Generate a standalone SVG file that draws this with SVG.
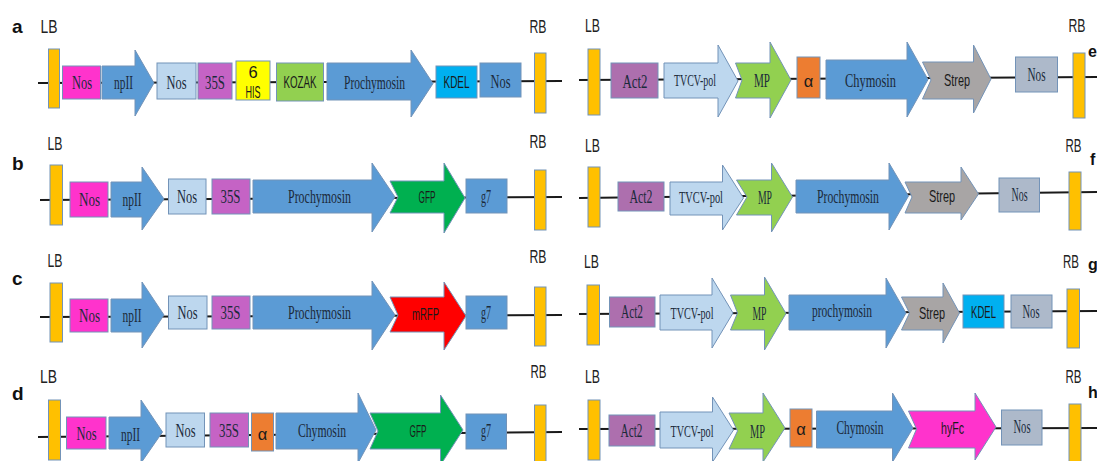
<svg xmlns="http://www.w3.org/2000/svg" width="1097" height="461" viewBox="0 0 1097 461">
<style>
.ln{stroke:#1a1a1a;stroke-width:2;fill:none}
.bd{fill:#ffc000;stroke:#7393b8;stroke-width:1}
.sh{stroke:#7393b8;stroke-width:1}
.t{font-family:"Liberation Serif","Times New Roman",serif;font-size:19.5px;text-anchor:middle;fill:#1b2a3a}
.tv{font-family:"Liberation Serif","Times New Roman",serif;font-size:16px;text-anchor:middle;fill:#1b2a3a}
.s{font-family:"Liberation Sans",Arial,sans-serif;font-size:16.5px;text-anchor:middle;fill:#1a1a1a}
.lb{font-family:"Liberation Sans",Arial,sans-serif;font-size:18px;text-anchor:middle;fill:#222}
.pl{font-family:"Liberation Sans",Arial,sans-serif;font-size:19px;font-weight:bold;fill:#111}
.ed{font-family:"Liberation Sans",Arial,sans-serif;font-size:16px;font-weight:bold;fill:#111}
.nm{fill:#ff33cc}.bl{fill:#5b9bd5}.lt{fill:#bdd7ee}.p35{fill:#c563c5}.his{fill:#ffff00}
.gr{fill:#92d050}.kd{fill:#00b0f0}.ac{fill:#ad6fae}.al{fill:#ed7d31}.st{fill:#a8a5a5}
.ng{fill:#adb9ca}.gf{fill:#00b050}.rf{fill:#ff0000}
</style>

<g id="panel-labels">
<text class="pl" x="12" y="33">a</text>
<text class="pl" x="12" y="170">b</text>
<text class="pl" x="12" y="285">c</text>
<text class="pl" x="12" y="400">d</text>
<text class="ed" x="1088" y="57">e</text>
<text class="ed" x="1090" y="165">f</text>
<text class="ed" x="1088" y="270">g</text>
<text class="ed" x="1088" y="398">h</text>
</g>

<g id="connectors">
<line class="ln" x1="38" y1="83" x2="562" y2="81"/>
<line class="ln" x1="579" y1="80" x2="1097" y2="77"/>
<line class="ln" x1="40" y1="200" x2="562" y2="197"/>
<line class="ln" x1="579" y1="198" x2="1097" y2="192"/>
<line class="ln" x1="40" y1="317" x2="562" y2="315"/>
<line class="ln" x1="579" y1="314" x2="1097" y2="311"/>
<line class="ln" x1="38" y1="437" x2="562" y2="432"/>
<line class="ln" x1="579" y1="429" x2="1097" y2="428"/>
</g>

<!-- Row a left -->
<g id="a-LB"><text class="lb" x="49" y="33" textLength="17" lengthAdjust="spacingAndGlyphs">LB</text><rect class="bd" x="48.5" y="49" width="11" height="59"/></g>
<g id="a-nos1"><rect class="sh nm" x="62.5" y="66" width="38" height="33"/><text class="t" x="82" y="89" textLength="20" lengthAdjust="spacingAndGlyphs">Nos</text></g>
<g id="a-npII"><polygon class="sh bl" points="102,66 135,66 135,50 154,83 135,116 135,99 102,99"/><text class="t" x="123.5" y="89" textLength="19" lengthAdjust="spacingAndGlyphs">npII</text></g>
<g id="a-nos2"><rect class="sh lt" x="157" y="63" width="39" height="36"/><text class="t" x="176.5" y="89" textLength="20" lengthAdjust="spacingAndGlyphs">Nos</text></g>
<g id="a-35S"><rect class="sh p35" x="198" y="63" width="34" height="36"/><text class="t" x="215" y="89" textLength="20" lengthAdjust="spacingAndGlyphs">35S</text></g>
<g id="a-his"><rect class="sh his" x="236" y="61" width="34" height="39"/><text class="s" x="253" y="78">6</text><text class="s" x="253" y="98" textLength="15" lengthAdjust="spacingAndGlyphs">HIS</text></g>
<g id="a-kozak"><rect class="sh gr" x="276.5" y="63" width="47" height="38"/><text class="s" x="300" y="88" textLength="33" lengthAdjust="spacingAndGlyphs">KOZAK</text></g>
<g id="a-prochymosin"><polygon class="sh bl" points="327,63 411,63 411,50 433,83.5 411,117 411,100 327,100"/><text class="t" x="374.5" y="89" textLength="61" lengthAdjust="spacingAndGlyphs">Prochymosin</text></g>
<g id="a-kdel"><rect class="sh kd" x="436" y="66" width="41" height="32"/><text class="s" x="456.5" y="88" textLength="26" lengthAdjust="spacingAndGlyphs">KDEL</text></g>
<g id="a-nos3"><rect class="sh bl" x="480" y="63" width="41" height="34"/><text class="t" x="500.5" y="88" textLength="20" lengthAdjust="spacingAndGlyphs">Nos</text></g>
<g id="a-RB"><text class="lb" x="538" y="33" textLength="17" lengthAdjust="spacingAndGlyphs">RB</text><rect class="bd" x="534.5" y="53" width="11.5" height="60"/></g>

<!-- Row a right (e) -->
<g id="e-LB"><text class="lb" x="592.5" y="32" textLength="15" lengthAdjust="spacingAndGlyphs">LB</text><rect class="bd" x="588" y="49" width="12" height="66"/></g>
<g id="e-act2"><rect class="sh ac" x="611" y="63" width="47" height="35"/><text class="t" x="635" y="88" textLength="25" lengthAdjust="spacingAndGlyphs">Act2</text></g>
<g id="e-tvcv"><polygon class="sh lt" points="664,63 718,63 718,45 738,81 718,117 718,98 664,98"/><text class="tv" x="695" y="86" textLength="42" lengthAdjust="spacingAndGlyphs">TVCV-pol</text></g>
<g id="e-mp"><polygon class="sh gr" points="735.5,63 770,63 770,42 791,80 770,118 770,98 735.5,98 742,80"/><text class="t" x="762" y="87" textLength="16" lengthAdjust="spacingAndGlyphs">MP</text></g>
<g id="e-alpha"><rect class="sh al" x="797" y="57" width="23" height="41"/><text class="s" x="808.5" y="87">α</text></g>
<g id="e-chymosin"><polygon class="sh bl" points="826,60 907,60 907,42 928,79.5 907,117 907,99 826,99"/><text class="t" x="870.5" y="87" textLength="51" lengthAdjust="spacingAndGlyphs">Chymosin</text></g>
<g id="e-strep"><polygon class="sh st" points="922.5,62 973.5,62 973.5,45 991,79 973.5,113 973.5,99 922.5,99 931,80"/><text class="s" x="957" y="86" textLength="26" lengthAdjust="spacingAndGlyphs">Strep</text></g>
<g id="e-nos"><rect class="sh ng" x="1015.5" y="57" width="42" height="35"/><text class="t" x="1036.5" y="81" textLength="18" lengthAdjust="spacingAndGlyphs">Nos</text></g>
<g id="e-RB"><text class="lb" x="1077" y="32" textLength="17" lengthAdjust="spacingAndGlyphs">RB</text><rect class="bd" x="1073" y="53" width="12" height="65"/></g>

<!-- Row b left -->
<g id="b-LB"><text class="lb" x="55" y="150" textLength="15" lengthAdjust="spacingAndGlyphs">LB</text><rect class="bd" x="50" y="165" width="12.5" height="60"/></g>
<g id="b-nos1"><rect class="sh nm" x="70" y="182" width="38" height="35"/><text class="t" x="89.5" y="206" textLength="21" lengthAdjust="spacingAndGlyphs">Nos</text></g>
<g id="b-npII"><polygon class="sh bl" points="111,182 142,182 142,167 164,199 142,230 142,217 111,217"/><text class="t" x="132" y="206" textLength="19" lengthAdjust="spacingAndGlyphs">npII</text></g>
<g id="b-nos2"><rect class="sh lt" x="168.5" y="179" width="37.5" height="35"/><text class="t" x="187" y="203" textLength="20" lengthAdjust="spacingAndGlyphs">Nos</text></g>
<g id="b-35S"><rect class="sh p35" x="212" y="179" width="38" height="35"/><text class="t" x="230.5" y="203" textLength="20" lengthAdjust="spacingAndGlyphs">35S</text></g>
<g id="b-prochymosin"><polygon class="sh bl" points="253,180 372,180 372,163 395,197 372,232 372,213 253,213"/><text class="t" x="319.5" y="203" textLength="63" lengthAdjust="spacingAndGlyphs">Prochymosin</text></g>
<g id="b-gfp"><polygon class="sh gf" points="390,181 444,181 444,163 465,198 444,233 444,213 390,213 398,197"/><text class="s" x="427" y="203" textLength="17" lengthAdjust="spacingAndGlyphs">GFP</text></g>
<g id="b-g7"><rect class="sh bl" x="466" y="179" width="41" height="34"/><text class="t" x="486" y="203" textLength="10" lengthAdjust="spacingAndGlyphs">g7</text></g>
<g id="b-RB"><text class="lb" x="538" y="148" textLength="17" lengthAdjust="spacingAndGlyphs">RB</text><rect class="bd" x="534.5" y="170" width="11.5" height="60"/></g>

<!-- Row b right (f) -->
<g id="f-LB"><text class="lb" x="592.5" y="152" textLength="15" lengthAdjust="spacingAndGlyphs">LB</text><rect class="bd" x="588" y="167" width="12" height="60"/></g>
<g id="f-act2"><rect class="sh ac" x="618" y="182" width="46" height="29"/><text class="t" x="641" y="203" textLength="23" lengthAdjust="spacingAndGlyphs">Act2</text></g>
<g id="f-tvcv"><polygon class="sh lt" points="670,182 722.5,182 722.5,165 743.5,198 722.5,230 722.5,215 670,215"/><text class="tv" x="701" y="203" textLength="44" lengthAdjust="spacingAndGlyphs">TVCV-pol</text></g>
<g id="f-mp"><polygon class="sh gr" points="736.5,180 771.5,180 771.5,163 792.5,197 771.5,232 771.5,215 736.5,215 747,197"/><text class="t" x="765" y="204" textLength="14" lengthAdjust="spacingAndGlyphs">MP</text></g>
<g id="f-prochymosin"><polygon class="sh bl" points="796,180 889,180 889,163 908.5,196 889,230 889,213 796,213"/><text class="t" x="848" y="203" textLength="62" lengthAdjust="spacingAndGlyphs">Prochymosin</text></g>
<g id="f-strep"><polygon class="sh st" points="905,182 961,182 961,167 978.5,194 961,220 961,213 905,213 912,197"/><text class="s" x="942" y="202" textLength="26" lengthAdjust="spacingAndGlyphs">Strep</text></g>
<g id="f-nos"><rect class="sh ng" x="999" y="178" width="40.5" height="34"/><text class="t" x="1019.5" y="201" textLength="16" lengthAdjust="spacingAndGlyphs">Nos</text></g>
<g id="f-RB"><text class="lb" x="1073.5" y="152" textLength="16" lengthAdjust="spacingAndGlyphs">RB</text><rect class="bd" x="1069" y="172" width="12" height="58"/></g>

<!-- Row c left -->
<g id="c-LB"><text class="lb" x="55" y="267" textLength="15" lengthAdjust="spacingAndGlyphs">LB</text><rect class="bd" x="50" y="283" width="12.5" height="59"/></g>
<g id="c-nos1"><rect class="sh nm" x="70" y="299" width="38" height="33"/><text class="t" x="89.5" y="322" textLength="21" lengthAdjust="spacingAndGlyphs">Nos</text></g>
<g id="c-npII"><polygon class="sh bl" points="111,299 142,299 142,282 164,315 142,348 142,332 111,332"/><text class="t" x="132" y="322" textLength="19" lengthAdjust="spacingAndGlyphs">npII</text></g>
<g id="c-nos2"><rect class="sh lt" x="168.5" y="296" width="38.5" height="33"/><text class="t" x="187.5" y="319" textLength="20" lengthAdjust="spacingAndGlyphs">Nos</text></g>
<g id="c-35S"><rect class="sh p35" x="212" y="296" width="38" height="33"/><text class="t" x="230.5" y="319" textLength="20" lengthAdjust="spacingAndGlyphs">35S</text></g>
<g id="c-prochymosin"><polygon class="sh bl" points="253,296 372,296 372,281 395,315 372,350 372,329 253,329"/><text class="t" x="319.5" y="319" textLength="63" lengthAdjust="spacingAndGlyphs">Prochymosin</text></g>
<g id="c-mrfp"><polygon class="sh rf" points="390,297 444,297 444,282 466,316 444,350 444,332 390,332 398,315"/><text class="s" x="425.5" y="320" textLength="27" lengthAdjust="spacingAndGlyphs" fill="#3a0000">mRFP</text></g>
<g id="c-g7"><rect class="sh bl" x="466" y="296" width="41" height="33"/><text class="t" x="486" y="319" textLength="10" lengthAdjust="spacingAndGlyphs">g7</text></g>
<g id="c-RB"><text class="lb" x="538" y="263" textLength="17" lengthAdjust="spacingAndGlyphs">RB</text><rect class="bd" x="534.5" y="287" width="11.5" height="59"/></g>

<!-- Row c right (g) -->
<g id="g-LB"><text class="lb" x="591.5" y="268" textLength="15" lengthAdjust="spacingAndGlyphs">LB</text><rect class="bd" x="587" y="285" width="12.5" height="60"/></g>
<g id="g-act2"><rect class="sh ac" x="609.5" y="297" width="45.5" height="30"/><text class="t" x="632" y="318" textLength="22" lengthAdjust="spacingAndGlyphs">Act2</text></g>
<g id="g-tvcv"><polygon class="sh lt" points="660,295 712,295 712,278 733,313 712,348 712,330 660,330"/><text class="tv" x="692" y="319" textLength="43" lengthAdjust="spacingAndGlyphs">TVCV-pol</text></g>
<g id="g-mp"><polygon class="sh gr" points="730.5,295 764.5,295 764.5,277 786,313.5 764.5,350 764.5,330 730.5,330 737.5,313"/><text class="t" x="759.5" y="320" textLength="14" lengthAdjust="spacingAndGlyphs">MP</text></g>
<g id="g-prochymosin"><polygon class="sh bl" points="789,295 886,295 886,278 906,313 886,348 886,330 789,330"/><text class="t" x="842" y="317" textLength="60" lengthAdjust="spacingAndGlyphs">prochymosin</text></g>
<g id="g-strep"><polygon class="sh st" points="901.5,297 943,297 943,283 959.5,313 943,343 943,330 901.5,330 909.5,313"/><text class="s" x="932" y="319" textLength="26" lengthAdjust="spacingAndGlyphs">Strep</text></g>
<g id="g-kdel"><rect class="sh kd" x="963" y="295" width="41" height="33"/><text class="s" x="983.5" y="318" textLength="25" lengthAdjust="spacingAndGlyphs">KDEL</text></g>
<g id="g-nos"><rect class="sh ng" x="1011" y="295" width="41" height="33"/><text class="t" x="1031" y="318" textLength="17" lengthAdjust="spacingAndGlyphs">Nos</text></g>
<g id="g-RB"><text class="lb" x="1071" y="268" textLength="16" lengthAdjust="spacingAndGlyphs">RB</text><rect class="bd" x="1067" y="289" width="12.5" height="59"/></g>

<!-- Row d left -->
<g id="d-LB"><text class="lb" x="48.5" y="383" textLength="17" lengthAdjust="spacingAndGlyphs">LB</text><rect class="bd" x="48.5" y="400" width="12" height="60"/></g>
<g id="d-nos1"><rect class="sh nm" x="66.5" y="417" width="39.5" height="32"/><text class="t" x="86.5" y="440" textLength="20" lengthAdjust="spacingAndGlyphs">Nos</text></g>
<g id="d-npII"><polygon class="sh bl" points="109,417 141,417 141,400 162.5,432 141,463 141,449 109,449"/><text class="t" x="130.5" y="441" textLength="19" lengthAdjust="spacingAndGlyphs">npII</text></g>
<g id="d-nos2"><rect class="sh lt" x="166" y="413" width="38.5" height="34"/><text class="t" x="185.5" y="437" textLength="20" lengthAdjust="spacingAndGlyphs">Nos</text></g>
<g id="d-35S"><rect class="sh p35" x="210" y="413" width="38.5" height="34"/><text class="t" x="229" y="437" textLength="20" lengthAdjust="spacingAndGlyphs">35S</text></g>
<g id="d-alpha"><rect class="sh al" x="251.5" y="413" width="22" height="38"/><text class="s" x="262.5" y="440">α</text></g>
<g id="d-chymosin"><polygon class="sh bl" points="276,413 358,413 358,393 376,430 358,463 358,449 276,449"/><text class="t" x="322" y="437" textLength="48" lengthAdjust="spacingAndGlyphs">Chymosin</text></g>
<g id="d-gfp"><polygon class="sh gf" points="370,413 440.5,413 440.5,395 463,430 440.5,465 440.5,449 370,449 378,431"/><text class="s" x="418" y="437" textLength="17" lengthAdjust="spacingAndGlyphs">GFP</text></g>
<g id="d-g7"><rect class="sh bl" x="466" y="414" width="40.5" height="35"/><text class="t" x="486" y="437" textLength="10" lengthAdjust="spacingAndGlyphs">g7</text></g>
<g id="d-RB"><text class="lb" x="538.5" y="378" textLength="16" lengthAdjust="spacingAndGlyphs">RB</text><rect class="bd" x="534.5" y="405" width="11.5" height="60"/></g>

<!-- Row d right (h) -->
<g id="h-LB"><text class="lb" x="592.5" y="383" textLength="15" lengthAdjust="spacingAndGlyphs">LB</text><rect class="bd" x="588" y="400" width="12" height="60"/></g>
<g id="h-act2"><rect class="sh ac" x="609" y="415" width="46" height="31"/><text class="t" x="631.5" y="437" textLength="22" lengthAdjust="spacingAndGlyphs">Act2</text></g>
<g id="h-tvcv"><polygon class="sh lt" points="660,412 712.5,412 712.5,397 733.5,430 712.5,462 712.5,448 660,448"/><text class="tv" x="692" y="437" textLength="43" lengthAdjust="spacingAndGlyphs">TVCV-pol</text></g>
<g id="h-mp"><polygon class="sh gr" points="729,413 763,413 763,393 785,428 763,462 763,449 729,449 737.5,431"/><text class="t" x="757.5" y="438" textLength="15" lengthAdjust="spacingAndGlyphs">MP</text></g>
<g id="h-alpha"><rect class="sh al" x="790" y="409" width="22" height="38"/><text class="s" x="801" y="435">α</text></g>
<g id="h-chymosin"><polygon class="sh bl" points="816.5,411 892.5,411 892.5,393 913,428 892.5,462 892.5,448 816.5,448"/><text class="t" x="860" y="434" textLength="47" lengthAdjust="spacingAndGlyphs">Chymosin</text></g>
<g id="h-hyfc"><polygon class="sh nm" points="908.5,411 975,411 975,393 996,427 975,460 975,448 908.5,448 916.5,429"/><text class="s" x="952.5" y="434" textLength="23" lengthAdjust="spacingAndGlyphs">hyFc</text></g>
<g id="h-nos"><rect class="sh ng" x="1001.5" y="410" width="40.5" height="35"/><text class="t" x="1022" y="433" textLength="17" lengthAdjust="spacingAndGlyphs">Nos</text></g>
<g id="h-RB"><text class="lb" x="1073.5" y="383" textLength="16" lengthAdjust="spacingAndGlyphs">RB</text><rect class="bd" x="1069" y="404" width="12" height="60"/></g>
</svg>
